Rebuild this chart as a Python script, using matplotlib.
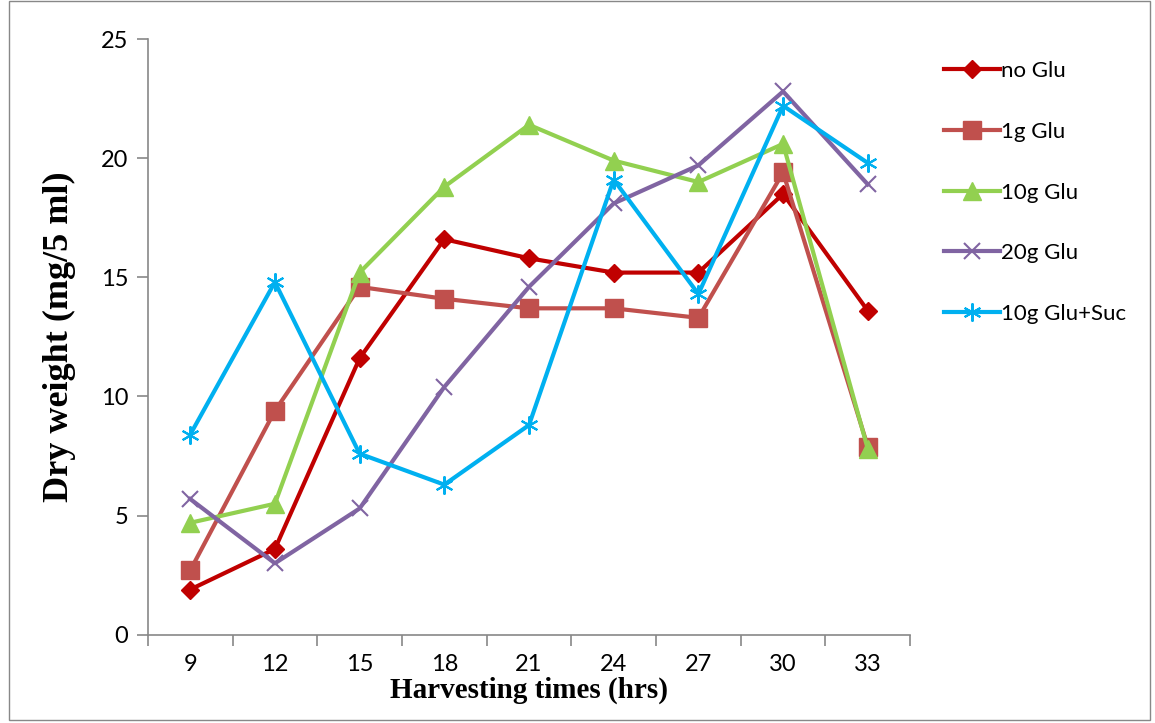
import matplotlib.pyplot as plt
from matplotlib.patches import Rectangle
from matplotlib.ticker import FixedLocator

plt.rcParams['font.family'] = ['Lato', 'DejaVu Sans']

# harvesting times (hrs) and dry weight (mg/5 ml)
hours = ['9', '12', '15', '18', '21', '24', '27', '30', '33']
no_glu = [1.9, 3.6, 11.6, 16.6, 15.8, 15.2, 15.2, 18.5, 13.6]
glu_1g = [2.7, 9.4, 14.6, 14.1, 13.7, 13.7, 13.3, 19.4, 7.9]
glu_10g = [4.7, 5.5, 15.2, 18.8, 21.4, 19.9, 19.0, 20.6, 7.8]
glu_20g = [5.7, 3.0, 5.3, 10.4, 14.6, 18.1, 19.7, 22.8, 18.9]
glu_suc = [8.4, 14.8, 7.6, 6.3, 8.8, 19.1, 14.3, 22.2, 19.8]

fig = plt.figure(figsize=(11.55, 7.23), dpi=100)
ax = fig.add_axes([0.128, 0.122, 0.66, 0.824])

x = range(len(hours))
ax.plot(x, no_glu, color='#C00000', lw=3, marker='D', ms=9, label='no Glu')
ax.plot(x, glu_1g, color='#C0504D', lw=3, marker='s', ms=13, label='1g Glu')
ax.plot(x, glu_10g, color='#92D050', lw=3, marker='^', ms=13, label='10g Glu')
ax.plot(x, glu_20g, color='#8064A2', lw=3, marker='x', ms=12, mew=1.5,
        label='20g Glu')
ax.plot(x, glu_suc, color='#00B0F0', lw=3, marker=(6, 2, 0), ms=13, mew=1.5,
        label='10g Glu+Suc')

ax.set_xlim(-0.5, len(hours) - 0.5)
ax.set_ylim(0, 25)
ax.set_yticks([0, 5, 10, 15, 20, 25])
ax.set_xticks(list(x))
ax.set_xticklabels(hours)
ax.xaxis.set_minor_locator(FixedLocator([i - 0.5 for i in range(len(hours) + 1)]))
ax.tick_params(axis='x', which='major', length=0, pad=14, labelsize=17)
ax.tick_params(axis='x', which='minor', length=8, color='#888888', width=1.2)
ax.tick_params(axis='y', length=8, color='#888888', width=1.2, pad=6, labelsize=17)

for s in ['top', 'right']:
    ax.spines[s].set_visible(False)
for s in ['left', 'bottom']:
    ax.spines[s].set_color('#888888')
    ax.spines[s].set_linewidth(1.2)

ax.set_ylabel('Dry weight (mg/5 ml)', family='Liberation Serif',
              fontweight='bold', fontsize=26, labelpad=18)
ax.set_xlabel('Harvesting times (hrs)', family='Liberation Serif',
              fontweight='bold', fontsize=21, labelpad=1)

leg = fig.legend(loc='upper left', bbox_to_anchor=(0.8, 0.943), frameon=False,
                 prop={'size': 16}, handlelength=2.5,
                 handletextpad=0.05, labelspacing=1.83)

fig.patches.append(Rectangle((0.008, 0.004), 0.988, 0.994, transform=fig.transFigure,
                             fill=False, edgecolor='#888888', lw=1))

fig.savefig('out.png', dpi=100)
